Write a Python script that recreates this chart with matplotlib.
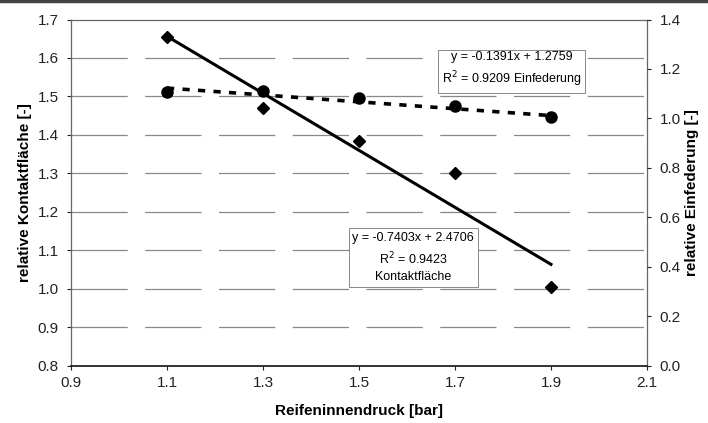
import numpy as np
import matplotlib
matplotlib.use("Agg")
import matplotlib.pyplot as plt
from matplotlib.lines import Line2D

plt.rcParams['font.family'] = ['Liberation Sans', 'DejaVu Sans']

druck = [1.1, 1.3, 1.5, 1.7, 1.9]
kontaktflaeche = [1.655, 1.469, 1.384, 1.300, 1.004]
einfederung = [1.108, 1.112, 1.081, 1.050, 1.006]
fit_kontakt = (-0.7403, 2.4706)
fit_einfed = (-0.1391, 1.2759)
xticks = [0.9, 1.1, 1.3, 1.5, 1.7, 1.9, 2.1]
yticks_left = [0.8, 0.9, 1.0, 1.1, 1.2, 1.3, 1.4, 1.5, 1.6, 1.7]
yticks_right = [0.0, 0.2, 0.4, 0.6, 0.8, 1.0, 1.2, 1.4]

fig = plt.figure(figsize=(7.08, 4.23), dpi=100)
ax = fig.add_axes([0.1003, 0.1348, 0.8135, 0.8191])
ax2 = ax.twinx()

ax.set_xlim(0.9, 2.1)
ax.set_ylim(0.8, 1.7)
ax2.set_ylim(0.0, 1.4)
ax.set_xticks(xticks)
ax.set_xticklabels([f"{v:.1f}" for v in xticks])
ax.set_yticks(yticks_left)
ax.set_yticklabels([f"{v:.1f}" for v in yticks_left])
ax2.set_yticks(yticks_right)
ax2.set_yticklabels([f"{v:.1f}" for v in yticks_right])

for a in (ax, ax2):
    a.tick_params(labelsize=11, length=3, width=0.8, colors='#222222', pad=4)
ax.tick_params(axis='y', pad=6)
ax2.tick_params(axis='y', pad=6)

# grid lines (broken gray)
for v in yticks_left[1:-1]:
    ax.axhline(v, color='#888888', lw=0.9, dashes=(45, 14), zorder=0)

for name in ['top', 'right', 'left']:
    ax.spines[name].set_color('#666666')
    ax.spines[name].set_linewidth(0.9)
ax.spines['top'].set_linestyle((0, (4, 1)))
ax.spines['bottom'].set_color('#111111')
ax.spines['bottom'].set_linewidth(1.2)
for name in ['top', 'right', 'left', 'bottom']:
    ax2.spines[name].set_visible(False)

# Kontaktfläche
xf = np.array([druck[0], druck[-1]])
ax.plot(xf, fit_kontakt[0] * xf + fit_kontakt[1], color='black', lw=2.2, zorder=3)
ax.plot(druck, kontaktflaeche, linestyle='none', marker='D', markersize=6.5,
        color='black', zorder=4)

# Einfederung
ax2.plot(xf, fit_einfed[0] * xf + fit_einfed[1], color='black', lw=2.6,
         dashes=(2.0, 2.3), zorder=3)
ax2.plot(druck, einfederung, linestyle='none', marker='o', markersize=8,
         color='black', zorder=4)

ax.set_xlabel('Reifeninnendruck [bar]', fontsize=11, fontweight='bold', labelpad=10)
ax.set_ylabel('relative Kontaktfläche [-]', fontsize=11, fontweight='bold', labelpad=4)
ax2.set_ylabel('relative Einfederung [-]', fontsize=11, fontweight='bold', labelpad=3)

box = dict(boxstyle='square,pad=0.3', facecolor='white', edgecolor='#888888', lw=0.7)
ax.text(0.765, 0.854, 'y = -0.1391x + 1.2759\nR$^2$ = 0.9209 Einfederung',
        transform=ax.transAxes, fontsize=9, ha='center', va='center',
        linespacing=1.5, bbox=box, zorder=5)
ax.text(0.594, 0.313, 'y = -0.7403x + 2.4706\nR$^2$ = 0.9423\nKontaktfläche',
        transform=ax.transAxes, fontsize=9, ha='center', va='center',
        linespacing=1.5, bbox=box, zorder=5)

# top dark bar
fig.add_artist(Line2D([0, 1], [0.998, 0.998], transform=fig.transFigure,
                      color='#444444', lw=2.5))

fig.savefig('out.png', dpi=100)
